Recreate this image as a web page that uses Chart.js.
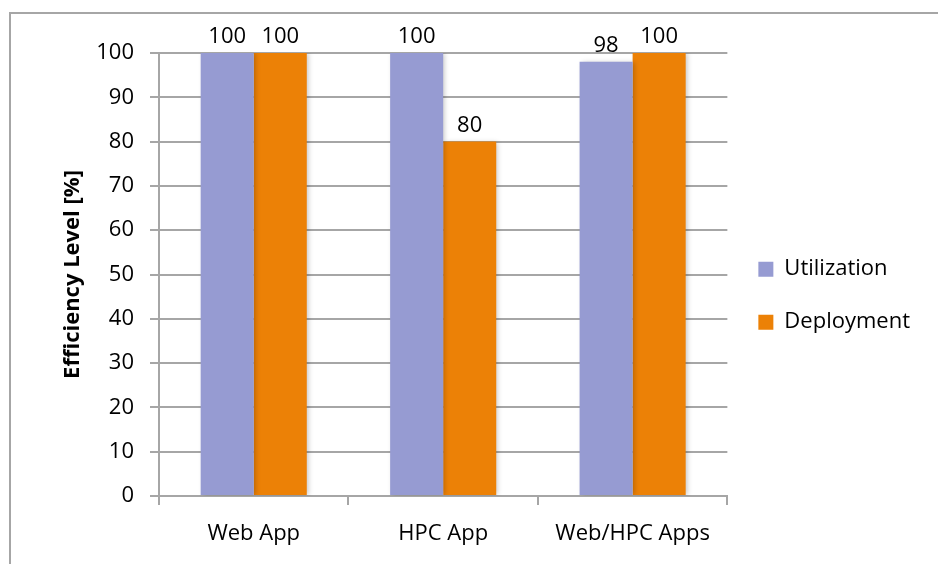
<!DOCTYPE html>
<html>
<head>
<meta charset="utf-8">
<script src="https://cdn.jsdelivr.net/npm/chart.js@4"></script>
<style>
html,body{margin:0;padding:0;background:#fff;overflow:hidden;}
#frame{position:absolute;left:9px;top:12px;width:1000px;height:700px;border:2px solid #a6a6a6;box-sizing:border-box;}
#wrap{position:absolute;left:0;top:0;width:938px;height:564px;}
</style>
</head>
<body>
<div id="frame"></div>
<div id="wrap"><canvas id="c"></canvas></div>
<script>
const categories = ["Web App", "HPC App", "Web/HPC Apps"];
const utilization = [100, 100, 98];
const deployment = [100, 80, 100];
const seriesNames = ["Utilization", "Deployment"];
const yTicks = [0, 10, 20, 30, 40, 50, 60, 70, 80, 90, 100];
const yTitle = "Efficiency Level [%]";

const FONT = "'Open Sans', Lato, sans-serif";
const GRID = "#a6a6a6";

const barShadow = {
  id: "barShadow",
  beforeDatasetsDraw(chart) {
    const ctx = chart.ctx;
    ctx.save();
    ctx.shadowColor = "rgba(0,0,0,0.22)";
    ctx.shadowBlur = 5;
    ctx.shadowOffsetX = 2;
    ctx.shadowOffsetY = 0;
  },
  afterDatasetsDraw(chart) {
    chart.ctx.restore();
  }
};

const valueLabels = {
  id: "valueLabels",
  afterDatasetsDraw(chart) {
    const ctx = chart.ctx;
    ctx.save();
    ctx.font = "22px " + FONT;
    ctx.fillStyle = "#000";
    ctx.textAlign = "center";
    ctx.textBaseline = "bottom";
    chart.data.datasets.forEach((ds, i) => {
      chart.getDatasetMeta(i).data.forEach((bar, j) => {
        ctx.fillText(String(ds.data[j]), bar.x, bar.y - 5);
      });
    });
    ctx.restore();
  }
};

new Chart(document.getElementById("c"), {
  type: "bar",
  data: {
    labels: categories,
    datasets: [
      { label: seriesNames[0], data: utilization, backgroundColor: "#969bd2", borderWidth: 0 },
      { label: seriesNames[1], data: deployment, backgroundColor: "#ec8106", borderWidth: 0 }
    ]
  },
  options: {
    responsive: true,
    maintainAspectRatio: false,
    animation: false,
    devicePixelRatio: 1,
    layout: { padding: { left: 60, top: 53, right: 18, bottom: 8 } },
    datasets: { bar: { categoryPercentage: 0.56, barPercentage: 1 } },
    plugins: {
      legend: {
        position: "right",
        fullSize: false,
        title: { display: true, text: " ", font: { family: FONT, size: 22 }, padding: 8 },
        labels: {
          font: { family: FONT, size: 22 },
          color: "#000",
          boxWidth: 15,
          boxHeight: 15,
          padding: 31
        }
      },
      tooltip: { enabled: false }
    },
    scales: {
      x: {
        afterFit(scale) { scale.height = 60; },
        grid: { display: true, drawOnChartArea: false, drawTicks: true, tickLength: 9, color: GRID, lineWidth: 2, offset: true },
        border: { display: true, color: GRID, width: 2 },
        ticks: { font: { family: FONT, size: 22 }, color: "#000", padding: 16 }
      },
      y: {
        min: 0, max: 100,
        afterFit(scale) { scale.width = 99; },
        afterBuildTicks(scale) { scale.ticks = yTicks.map(v => ({ value: v })); },
        grid: { color: GRID, lineWidth: 2, drawTicks: true, tickLength: 9, tickColor: GRID },
        border: { display: true, color: GRID, width: 2 },
        ticks: { font: { family: FONT, size: 22 }, color: "#000", padding: 16 },
        title: { display: true, text: yTitle, font: { family: FONT, size: 22, weight: "bold" }, color: "#000", padding: { top: 0, bottom: 0 } }
      }
    }
  },
  plugins: [barShadow, valueLabels]
});
</script>
</body>
</html>
